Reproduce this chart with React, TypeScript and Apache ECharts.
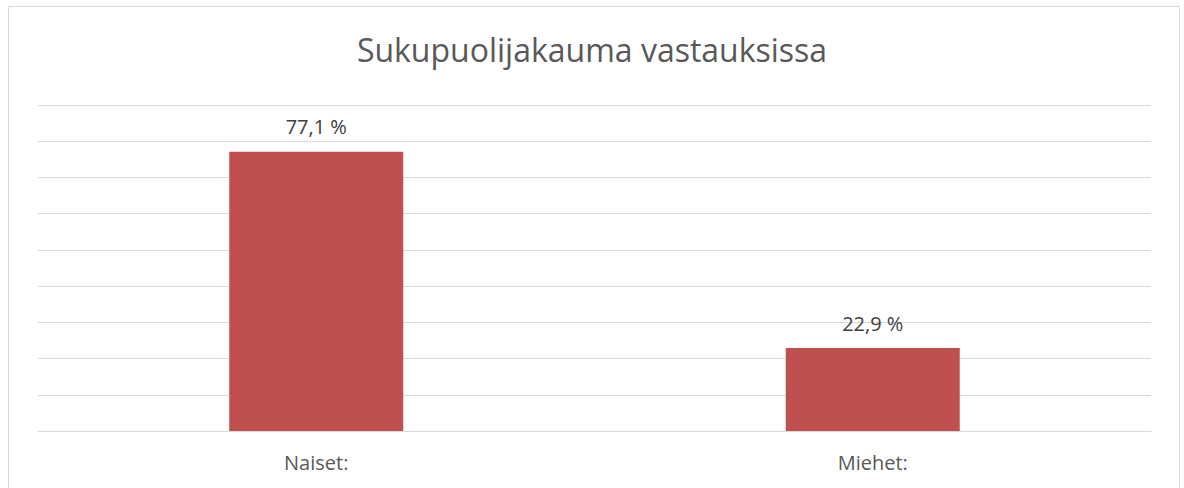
import React, { useEffect, useRef } from "react";
import * as echarts from "echarts";

const categories = ["Naiset:", "Miehet:"];
const values = [77.1, 22.9];
const yMax = 90;
const yInterval = 10;
const titleText = "Sukupuolijakauma vastauksissa";

export default function App() {
  const ref = useRef<HTMLDivElement>(null);
  useEffect(() => {
    if (!ref.current) return;
    const chart = echarts.init(ref.current, undefined, { renderer: "svg" });
    chart.setOption({
      animation: false,
      backgroundColor: "#ffffff",
      title: {
        text: titleText,
        left: "center",
        top: 28,
        textStyle: { fontFamily: "Open Sans", fontSize: 32, fontWeight: "normal", color: "#595959" },
      },
      graphic: [
        {
          type: "rect",
          shape: { x: 8.5, y: 6.5, width: 1171, height: 520 },
          style: { fill: "none", stroke: "#d9d9d9", lineWidth: 1 },
          silent: true,
        },
      ],
      grid: { left: 38, right: 33, top: 105, bottom: 57 },
      xAxis: {
        type: "category",
        data: categories,
        axisLine: { lineStyle: { color: "#d9d9d9", width: 1 } },
        axisTick: { show: false },
        axisLabel: { fontFamily: "Open Sans", fontSize: 20, color: "#595959", margin: 21 },
      },
      yAxis: {
        type: "value",
        min: 0,
        max: yMax,
        interval: yInterval,
        axisLabel: { show: false },
        axisLine: { show: false },
        axisTick: { show: false },
        splitLine: { lineStyle: { color: "#d9d9d9", width: 1 } },
      },
      series: [
        {
          type: "bar",
          data: values,
          barWidth: 174,
          itemStyle: { color: "#c0504d" },
          label: {
            show: true,
            position: "top",
            distance: 15,
            fontFamily: "Open Sans",
            fontSize: 20,
            color: "#404040",
            formatter: (p: any) => String(p.value).replace(".", ",") + " %",
          },
        },
      ],
    });
    return () => chart.dispose();
  }, []);
  return (
    <div
      ref={ref}
      style={{ position: "absolute", left: 0, top: 0, width: 1184, height: 488 }}
    />
  );
}
